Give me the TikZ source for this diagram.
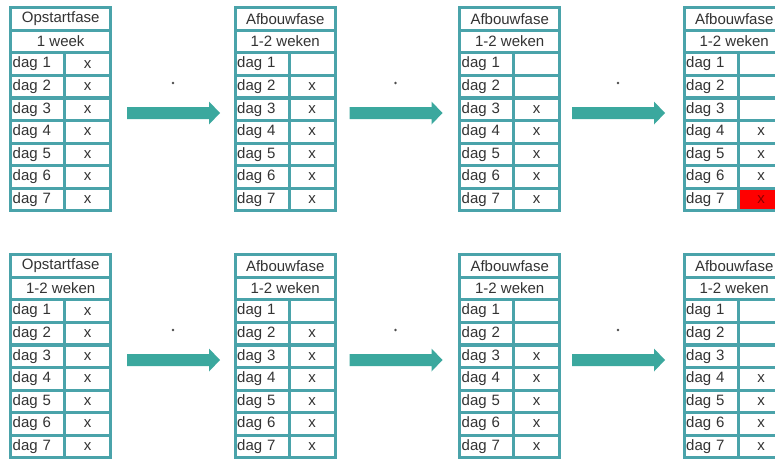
\documentclass[tikz,border=0pt]{standalone}
\usepackage{fontspec}
\setmainfont{Liberation Sans}
\definecolor{tealb}{HTML}{4AA3AA}
\definecolor{tealarrow}{HTML}{3BA89E}
\definecolor{txt}{HTML}{333333}
\definecolor{redcell}{HTML}{FF0000}
\newcommand{\fsz}{\fontsize{15}{16}\selectfont}
\tikzset{
  cellbox/.style={fill=white, inner sep=0pt, minimum height=19.4pt, text=txt, font=\fsz},
  daycell/.style={cellbox, text width=50pt, inner xsep=0.5pt, align=left},
  xcell/.style={cellbox, minimum width=43pt},
  headcell/.style={cellbox, minimum width=97pt},
  redx/.style={fill=redcell, text=red!55!black},
  bigarrow/.style={fill=tealarrow, draw=none},
  dotmark/.style={fill=gray!60!black}
}
% #1 id, #2 x0, #3 y0, #4 title, #5 subtitle, #6 first day with x, #7 red day (0 = none)
\newcommand{\ftable}[7]{%
  \fill[tealb] (#2,#3) rectangle ++(103,206);
  \node[headcell, anchor=north west] (#1t) at ({#2+3},{#3+3}) {#4};
  \node[headcell, anchor=north west] (#1s) at ({#2+3},{#3+3+22.58}) {#5};
  \foreach \d in {1,...,7} {
    \pgfmathsetmacro\yy{#3+3+(\d+1)*22.58}
    \node[daycell, anchor=north west] (#1d\d) at ({#2+3},\yy) {dag \d};
    \ifnum\d<#6
      \node[xcell, anchor=north west] (#1x\d) at ({#2+57},\yy) {};
    \else
      \ifnum\d=#7
        \node[xcell, redx, anchor=north west] (#1x\d) at ({#2+57},\yy) {x};
      \else
        \node[xcell, anchor=north west] (#1x\d) at ({#2+57},\yy) {x};
      \fi
    \fi
  }%
}
% #1 name, #2 start x, #3 centre y
\newcommand{\farrow}[3]{%
  \coordinate (#1) at (#2,#3);
  \fill[bigarrow] (#2,{#3-6}) -- ({#2+82},{#3-6}) -- ({#2+82},{#3-11.5}) -- ({#2+93},#3)
     -- ({#2+82},{#3+11.5}) -- ({#2+82},{#3+6}) -- (#2,{#3+6}) -- cycle;
  \fill[dotmark] ({#2+46},{#3-30}) circle (1.3);
}
\begin{document}
\begin{tikzpicture}[x=1pt,y=-1pt]
\useasboundingbox (0,0) rectangle (775,458);
\fill[white] (0,0) rectangle (775,458);
\clip (0,0) rectangle (775,458);
% top row
\ftable{a1}{9}{6}{Opstartfase}{1 week}{1}{0}
\ftable{a2}{233.5}{6}{Afbouwfase}{1-2 weken}{2}{0}
\ftable{a3}{458}{6}{Afbouwfase}{1-2 weken}{3}{0}
\ftable{a4}{682.5}{6}{Afbouwfase}{1-2 weken}{4}{7}
\farrow{ar1}{127}{113}
\farrow{ar2}{349.5}{113}
\farrow{ar3}{572}{113}
% bottom row
\ftable{b1}{9}{253}{Opstartfase}{1-2 weken}{1}{0}
\ftable{b2}{233.5}{253}{Afbouwfase}{1-2 weken}{2}{0}
\ftable{b3}{458}{253}{Afbouwfase}{1-2 weken}{3}{0}
\ftable{b4}{682.5}{253}{Afbouwfase}{1-2 weken}{4}{0}
\farrow{br1}{127}{360}
\farrow{br2}{349.5}{360}
\farrow{br3}{572}{360}
\end{tikzpicture}
\end{document}
